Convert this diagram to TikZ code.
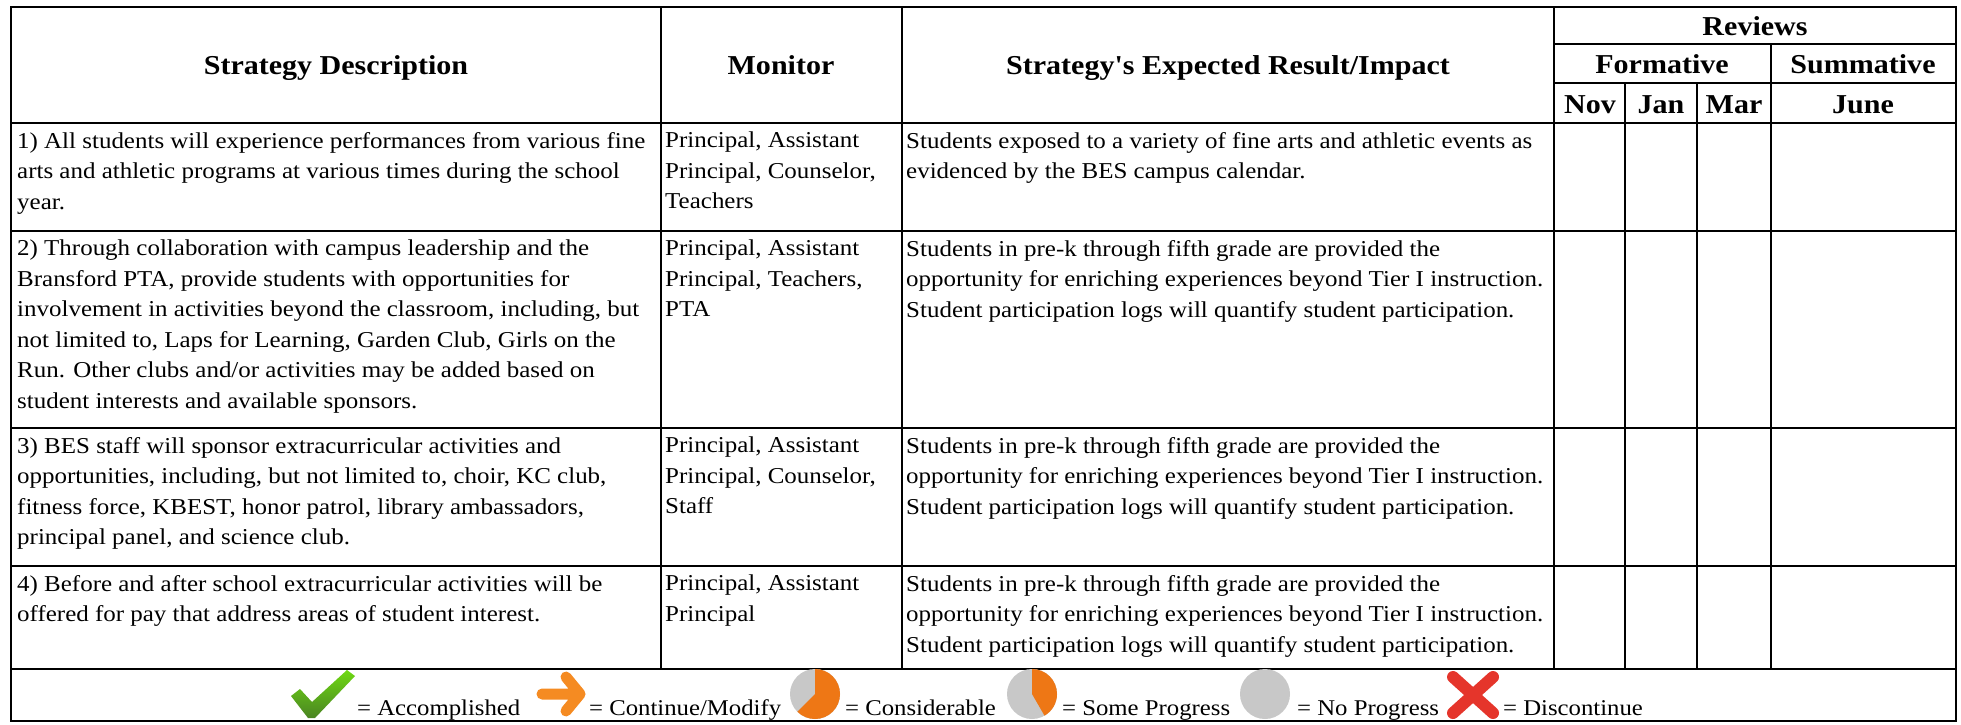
\documentclass[tikz,border=0pt]{standalone}
\usepackage{fontspec}
\setmainfont{Liberation Serif}[Ligatures=TeXOff, FakeStretch=1.1]
\begin{document}
\begin{tikzpicture}[x=1pt,y=-1pt,
  rule/.style={line width=2.2pt, draw=black},
  body/.style={font=\fontsize{22.7}{30.5}\selectfont, anchor=north west, inner sep=0pt, align=left,
    execute at begin node={\rule{0pt}{20pt}}},
  head/.style={font=\fontsize{27.3}{30}\selectfont\bfseries, anchor=base, inner sep=0pt},
  leg/.style={font=\fontsize{22.5}{26}\selectfont, anchor=base west, inner sep=0pt},
]
\definecolor{pieorange}{HTML}{EE7715}
\definecolor{piegrey}{HTML}{C8C8C8}
\definecolor{checkgreen}{HTML}{5DA52C}
\definecolor{arroworange}{HTML}{F58B22}
\definecolor{xred}{HTML}{E5352B}
\useasboundingbox (0,0) rectangle (1961,724);
\fill[white] (0,0) rectangle (1961,724);

% ---- grid ----
\draw[rule] (11,7) rectangle (1956,721);
\draw[rule] (1554,44) -- (1956,44);
\draw[rule] (1554,83) -- (1956,83);
\foreach \yy in {123,231,428,566,669} \draw[rule] (11,\yy) -- (1956,\yy);
\foreach \xx in {661,902,1554} \draw[rule] (\xx,7) -- (\xx,669);
\draw[rule] (1771,44) -- (1771,669);
\foreach \xx in {1625,1697} \draw[rule] (\xx,83) -- (\xx,669);

% ---- header ----
\node[head] (h1) at (336,74) {Strategy Description};
\node[head] (h2) at (781,74) {Monitor};
\node[head] (h3) at (1228,74) {Strategy's Expected Result/Impact};
\node[head] (hr) at (1755,35) {Reviews};
\node[head] (hf) at (1662,73) {Formative};
\node[head] (hs) at (1863,73) {Summative};
\node[head] (hn) at (1590,113) {Nov};
\node[head] (hj) at (1661,113) {Jan};
\node[head] (hm) at (1734,113) {Mar};
\node[head] (hju) at (1863,113) {June};

% ---- row 1 ----
\node[body] (r1a) at (17,132) {1) All students will experience performances from various fine\\arts and athletic programs at various times during the school\\year.};
\node[body] (r1b) at (665,132) {Principal, Assistant\\Principal, Counselor,\\Teachers};
\node[body] (r1c) at (906,132) {Students exposed to a variety of fine arts and athletic events as\\evidenced by the BES campus calendar.};

% ---- row 2 ----
\node[body] (r2a) at (17,240) {2) Through collaboration with campus leadership and the\\Bransford PTA, provide students with opportunities for\\involvement in activities beyond the classroom, including, but\\not limited to, Laps for Learning, Garden Club, Girls on the\\Run. Other clubs and/or activities may be added based on\\student interests and available sponsors.};
\node[body] (r2b) at (665,240) {Principal, Assistant\\Principal, Teachers,\\PTA};
\node[body] (r2c) at (906,240) {Students in pre-k through fifth grade are provided the\\opportunity for enriching experiences beyond Tier I instruction.\\Student participation logs will quantify student participation.};

% ---- row 3 ----
\node[body] (r3a) at (17,437) {3) BES staff will sponsor extracurricular activities and\\opportunities, including, but not limited to, choir, KC club,\\fitness force, KBEST, honor patrol, library ambassadors,\\principal panel, and science club.};
\node[body] (r3b) at (665,437) {Principal, Assistant\\Principal, Counselor,\\Staff};
\node[body] (r3c) at (906,437) {Students in pre-k through fifth grade are provided the\\opportunity for enriching experiences beyond Tier I instruction.\\Student participation logs will quantify student participation.};

% ---- row 4 ----
\node[body] (r4a) at (17,575) {4) Before and after school extracurricular activities will be\\offered for pay that address areas of student interest.};
\node[body] (r4b) at (665,575) {Principal, Assistant\\Principal};
\node[body] (r4c) at (906,575) {Students in pre-k through fifth grade are provided the\\opportunity for enriching experiences beyond Tier I instruction.\\Student participation logs will quantify student participation.};

% ---- legend icons ----
% check mark
\begin{scope}[shift={(290,669)}]
  \shade[top color=checkgreen!60!yellow!70!green, bottom color=checkgreen!80!black]
    (1,27) -- (10,20) -- (22,33) -- (57,1) -- (65,7) -- (25,49) -- (18,49) -- cycle;
\end{scope}
% arrow
\begin{scope}[shift={(536,671)}]
  \draw[line width=11pt, line cap=round, line join=round, arroworange]
    (6,23) -- (42,23) (30,6) -- (44,23) -- (30,40);
\end{scope}
% considerable pie
\begin{scope}[shift={(815,694)}, y=1pt]
  \fill[piegrey] (0,0) circle[radius=25pt];
  \fill[pieorange] (0,0) -- (90:25pt) arc[start angle=90, end angle=-135, radius=25pt] -- cycle;
\end{scope}
% some progress pie
\begin{scope}[shift={(1032,694)}, y=1pt]
  \fill[piegrey] (0,0) circle[radius=25pt];
  \fill[pieorange] (0,0) -- (90:25pt) arc[start angle=90, end angle=-60, radius=25pt] -- cycle;
\end{scope}
% no progress
\begin{scope}[shift={(1265,694)}, y=1pt]
  \fill[piegrey] (0,0) circle[radius=25pt];
\end{scope}
% discontinue X
\begin{scope}[shift={(1445,671)}]
  \draw[line width=12pt, line cap=round, xred] (8,6) -- (48,42) (48,6) -- (8,42);
\end{scope}

% ---- legend text ----
\node[leg] (l1) at (357,715) {= Accomplished};
\node[leg] (l2) at (589,715) {= Continue/Modify};
\node[leg] (l3) at (845,715) {= Considerable};
\node[leg] (l4) at (1062,715) {= Some Progress};
\node[leg] (l5) at (1297,715) {= No Progress};
\node[leg] (l6) at (1503,715) {= Discontinue};
\end{tikzpicture}
\end{document}
